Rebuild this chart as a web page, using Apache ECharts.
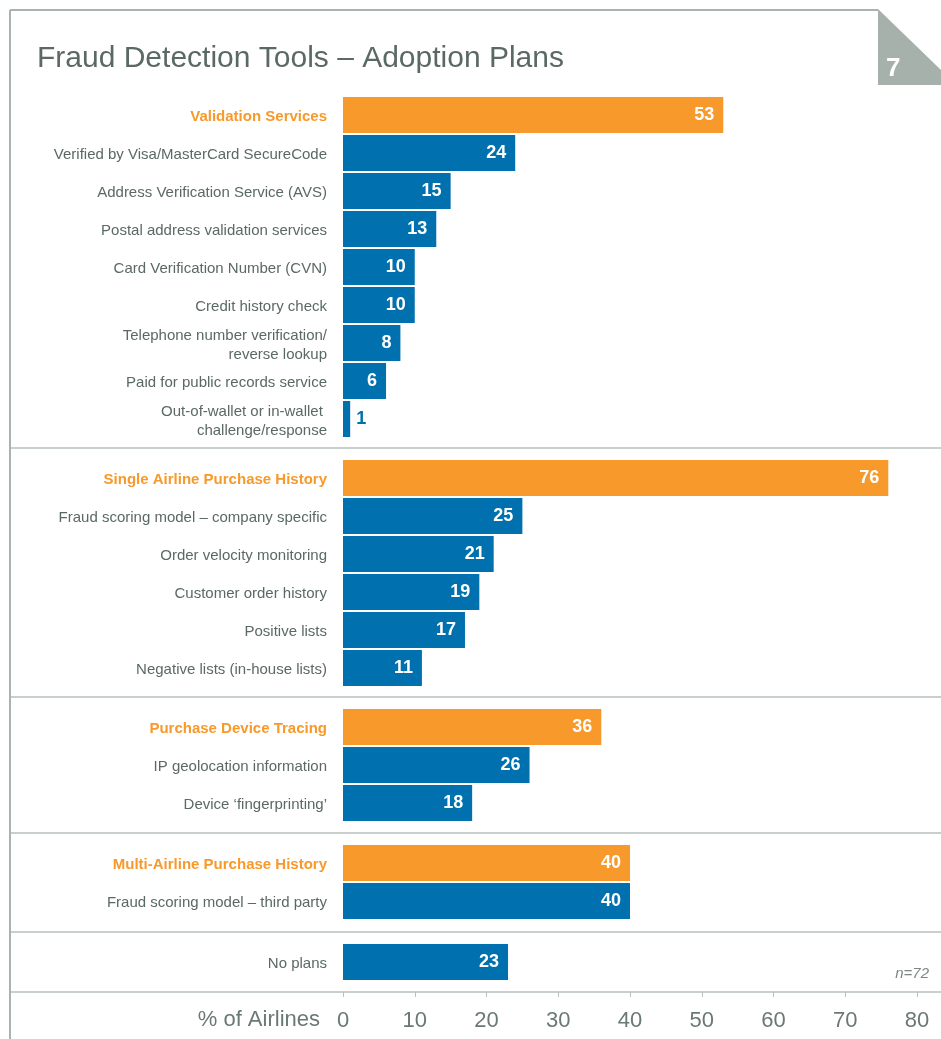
<!DOCTYPE html>
<html><head><meta charset="utf-8">
<script src="https://cdn.jsdelivr.net/npm/echarts@6/dist/echarts.min.js"></script>
<style>html,body{margin:0;padding:0;background:#fff}#c{width:941px;height:1039px}</style>
</head><body><div id="c"></div>
<script>
// ---- data ----
const validationLabels = ['Validation Services','Verified by Visa/MasterCard SecureCode','Address Verification Service (AVS)','Postal address validation services','Card Verification Number (CVN)','Credit history check','Telephone number verification/\nreverse lookup','Paid for public records service','Out-of-wallet or in-wallet \nchallenge/response'];
const validationValues = [53,24,15,13,10,10,8,6,1];
const singleLabels = ['Single Airline Purchase History','Fraud scoring model – company specific','Order velocity monitoring','Customer order history','Positive lists','Negative lists (in-house lists)'];
const singleValues = [76,25,21,19,17,11];
const deviceLabels = ['Purchase Device Tracing','IP geolocation information','Device ‘fingerprinting’'];
const deviceValues = [36,26,18];
const multiLabels = ['Multi-Airline Purchase History','Fraud scoring model – third party'];
const multiValues = [40,40];
const noPlanLabels = ['No plans'];
const noPlanValues = [23];
const xTicks = [0,10,20,30,40,50,60,70,80];

const groups = [
  {labels: validationLabels, values: validationValues, header: true},
  {labels: singleLabels, values: singleValues, header: true},
  {labels: deviceLabels, values: deviceValues, header: true},
  {labels: multiLabels, values: multiValues, header: true},
  {labels: noPlanLabels, values: noPlanValues, header: false}
];

const ORANGE = '#f7992b', BLUE = '#0071ae', GREY = '#5b6964', LINE = '#c9cfcc';
const FONT = 'Liberation Sans';
const rowH = 38;
const tops = [96, 459, 708, 844, 943];
const seps = [448, 697, 833, 932, 992];

const chart = echarts.init(document.getElementById('c'), null, {renderer: 'canvas'});
const grid = [], xAxis = [], yAxis = [], series = [];
groups.forEach((g, i) => {
  const last = i === groups.length - 1;
  grid.push({left: 343, right: 24, top: tops[i], height: g.labels.length * rowH});
  xAxis.push({
    gridIndex: i, type: 'value', min: 0, max: 80, interval: 10,
    show: true, offset: last ? 11 : 0,
    axisLine: {show: false}, splitLine: {show: false},
    axisTick: {show: last, length: 5, lineStyle: {color: '#b9c0bd', width: 1}},
    axisLabel: {show: last, fontSize: 22, color: '#6b7973', fontFamily: FONT, margin: 18,
      formatter: v => xTicks.includes(v) ? String(v) : ''}
  });
  yAxis.push({
    gridIndex: i, type: 'category', inverse: true, data: g.labels,
    axisLine: {show: false}, axisTick: {show: false}, splitLine: {show: false},
    axisLabel: {
      margin: 16, fontSize: 15, color: GREY, fontFamily: FONT, lineHeight: 19, align: 'right',
      padding: [4, 0, 0, 0],
      formatter: (v, idx) => (g.header && idx === 0) ? '{h|' + v + '}' : v,
      rich: {h: {color: ORANGE, fontWeight: 'bold', fontSize: 15, fontFamily: FONT}}
    }
  });
  series.push({
    type: 'bar', xAxisIndex: i, yAxisIndex: i, barWidth: 36,
    data: g.values.map((v, idx) => ({
      value: v,
      itemStyle: {color: (g.header && idx === 0) ? ORANGE : BLUE},
      label: v < 3 ? {position: 'right', color: BLUE, distance: 6} : {position: 'insideRight', color: '#fff', distance: 9}
    })),
    label: {show: true, fontSize: 18, fontWeight: 'bold', fontFamily: FONT},
    silent: true, animation: false
  });
});

const graphic = [
  {type: 'line', shape: {x1: 10, y1: 10, x2: 878, y2: 10}, style: {stroke: '#a9b3ae', lineWidth: 2}},
  {type: 'line', shape: {x1: 10, y1: 10, x2: 10, y2: 1039}, style: {stroke: '#a9b3ae', lineWidth: 2}},
  {type: 'polygon', shape: {points: [[878, 9], [941, 70], [941, 85], [878, 85]]}, style: {fill: '#a5b1aa'}},
  {type: 'text', left: 886, top: 56, style: {text: '7', fill: '#fff', font: 'bold 26px ' + FONT}},
  {type: 'text', left: 37, top: 44, style: {text: 'Fraud Detection Tools – Adoption Plans', fill: GREY, font: '30px ' + FONT}},
  {type: 'text', right: 12, top: 966, style: {text: 'n=72', fill: '#7b8783', font: 'italic 15px ' + FONT}},
  {type: 'text', right: 621, top: 1009, style: {text: '% of Airlines', fill: '#6b7973', font: '22px ' + FONT}}
];
seps.forEach(y => graphic.push({type: 'line', shape: {x1: 11, y1: y, x2: 941, y2: y}, style: {stroke: LINE, lineWidth: 2}}));

chart.setOption({animation: false, grid, xAxis, yAxis, series, graphic});
</script></body></html>
